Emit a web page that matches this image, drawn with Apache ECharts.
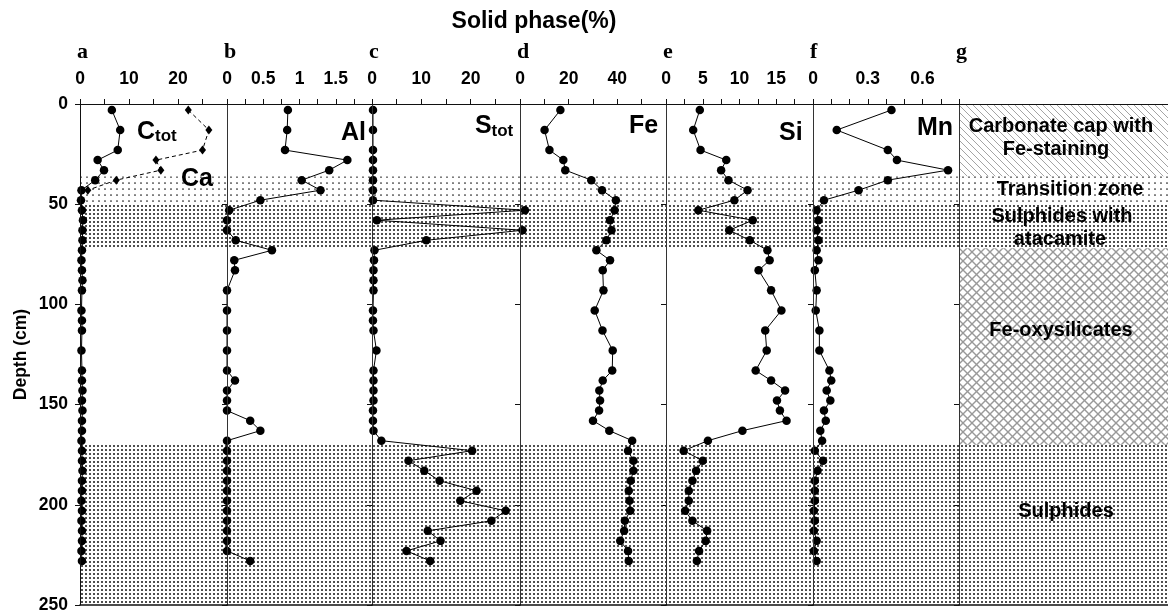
<!DOCTYPE html>
<html>
<head>
<meta charset="utf-8">
<script src="https://cdn.jsdelivr.net/npm/echarts@6/dist/echarts.min.js"></script>
<style>
  html, body { margin: 0; padding: 0; background: #fff; }
  #chart { width: 1168px; height: 615px; }
</style>
</head>
<body>
<div id="chart"></div>
<script>
// ---- Sampling depths (cm) ----
const depthCore = [3, 13, 23, 28, 33, 38, 43, 48, 53, 58, 63, 68, 73, 78, 83, 93, 103, 113, 123,
  133, 138, 143, 148, 153, 158, 163, 168, 173, 178, 183, 188, 193, 198, 203, 208, 213, 218, 223, 228];
const depthFine = [3, 13, 23, 28, 33, 38, 43, 48, 53, 58, 63, 68, 73, 78, 83, 88, 93, 103, 108, 113, 123,
  133, 138, 143, 148, 153, 158, 163, 168, 173, 178, 183, 188, 193, 198, 203, 208, 213, 218, 223, 228];
const depthCa = [3, 13, 23, 28, 33, 38, 43];

// ---- Solid phase contents (%) ----
const ctot = [6.5, 8.2, 7.7, 3.6, 4.9, 3.1, 0.3, 0.2,
  0.4, 0.6, 0.5, 0.5, 0.4, 0.3, 0.4, 0.5, 0.4,
  0.3, 0.4, 0.4, 0.3,
  0.4, 0.4, 0.5, 0.4, 0.5, 0.4, 0.4, 0.3, 0.4, 0.4, 0.5, 0.4, 0.4, 0.3, 0.4, 0.3, 0.4, 0.4, 0.3, 0.4];
const ca = [22.1, 26.3, 25.0, 15.5, 16.5, 7.4, 1.6];
const al = [0.84, 0.83, 0.80, 1.66, 1.41, 1.03, 1.29, 0.46,
  0.03, 0, 0, 0.12, 0.62, 0.10, 0.11,
  0, 0, 0, 0,
  0, 0.11, 0, 0, 0, 0.32, 0.46, 0, 0, 0, 0, 0, 0, 0, 0, 0, 0, 0, 0, 0.32];
const stot = [0.2, 0.2, 0.2, 0.2, 0.2, 0.2, 0.2, 0.2,
  31, 1, 30.5, 11, 0.5, 0.4, 0.3, 0.3, 0.3,
  0.2, 0.2, 0.3, 0.9,
  0.3, 0.3, 0.3, 0.3, 0.2, 0.2, 0.3, 1.9, 20.3, 7.4, 10.6, 13.7, 21.2, 17.9, 27.1, 24.2, 11.3, 13.9, 7.0, 11.8];
const fe = [16.6, 10.1, 12.1, 17.8, 18.6, 29.3, 33.7, 39.4,
  38.9, 37.0, 37.6, 35.5, 31.4, 37.0, 34.0,
  34.3, 30.7, 33.9, 38.1,
  37.9, 34.0, 32.6, 32.9, 32.5, 30.0, 36.7, 46.1, 44.4, 46.6, 46.6, 45.5, 44.7, 45.0, 45.3, 43.1, 42.8, 41.2, 44.4, 44.7];
const si = [4.6, 3.7, 4.7, 8.2, 7.5, 8.5, 11.1, 9.3,
  4.4, 11.8, 8.6, 11.4, 13.8, 14.1, 12.6,
  14.3, 15.7, 13.5, 13.7,
  12.2, 14.3, 16.2, 15.1, 15.5, 16.4, 10.4, 5.7, 2.4, 5.0, 4.1, 3.6, 3.1, 3.1, 2.6, 3.6, 5.6, 5.4, 4.5, 4.2];
const mn = [0.43, 0.13, 0.41, 0.46, 0.74, 0.41, 0.25, 0.06,
  0.02, 0.03, 0.02, 0.03, 0.02, 0.03, 0.01,
  0.02, 0.015, 0.035, 0.035,
  0.09, 0.10, 0.075, 0.095, 0.06, 0.07, 0.04, 0.05, 0.01, 0.055, 0.025, 0.01, 0.01, 0.01, 0.005, 0.01, 0.005, 0.02, 0.005, 0.02];

// ---- Axis tick labels ----
const ticksA = [0, 10, 20];
const ticksB = [0, 0.5, 1, 1.5];
const ticksC = [0, 10, 20];
const ticksD = [0, 20, 40];
const ticksE = [0, 5, 10, 15];
const ticksF = [0, 0.3, 0.6];
const depthTicks = [0, 50, 100, 150, 200, 250];

// ---- Lithological units (depth range in cm) ----
const unitNames = ['Carbonate cap with\nFe-staining', 'Transition zone', 'Sulphides with\natacamite', 'Fe-oxysilicates', 'Sulphides'];
const unitTop = [0, 36, 50, 72, 170];
const unitBottom = [36, 50, 72, 170, 250];
const unitFill = ['hatch', 'sparse', 'dense', 'cross', 'dense'];
const unitInProfiles = [false, true, true, false, true];

// ---- Fill patterns ----
function makeCanvas(w, h, draw) {
  const c = document.createElement('canvas');
  c.width = w; c.height = h;
  draw(c.getContext('2d'), w, h);
  return c;
}
const patterns = {
  sparse: makeCanvas(6, 6, (g) => {
    g.fillStyle = '#1a1a1a';
    g.beginPath(); g.arc(3, 3, 0.85, 0, Math.PI * 2); g.fill();
  }),
  dense: makeCanvas(4, 4, (g) => {
    g.fillStyle = '#151515';
    g.beginPath(); g.arc(2, 2, 1.0, 0, Math.PI * 2); g.fill();
  }),
  hatch: makeCanvas(7, 7, (g, s) => {
    g.strokeStyle = '#a4a4a4'; g.lineWidth = 1;
    for (let k = -1; k <= 1; k++) {
      g.beginPath(); g.moveTo(k * s, 0); g.lineTo(k * s + s, s); g.stroke();
    }
  }),
  cross: makeCanvas(9, 9, (g, s) => {
    g.strokeStyle = '#999'; g.lineWidth = 1.4;
    for (let k = -1; k <= 1; k++) {
      g.beginPath(); g.moveTo(k * s, 0); g.lineTo(k * s + s, s); g.stroke();
      g.beginPath(); g.moveTo(k * s, s); g.lineTo(k * s + s, 0); g.stroke();
    }
  })
};
const fillOf = (name) => ({ image: patterns[name], repeat: 'repeat' });

// ---- Panel layout ----
const FONT = 'Liberation Sans';
const TOP = 104, HEIGHT = 501;
const panels = [
  { letter: 'a', left: 80,  width: 147, max: 30,  step: 5,    ticks: ticksA },
  { letter: 'b', left: 227, width: 145, max: 2,   step: 0.25, ticks: ticksB },
  { letter: 'c', left: 372, width: 148, max: 30,  step: 5,    ticks: ticksC },
  { letter: 'd', left: 520, width: 146, max: 60,  step: 10,   ticks: ticksD },
  { letter: 'e', left: 666, width: 147, max: 20,  step: 2.5,  ticks: ticksE },
  { letter: 'f', left: 813, width: 146, max: 0.8, step: 0.1,  ticks: ticksF },
  { letter: 'g', left: 959, width: 209, max: 1,   step: 1,    ticks: [] }
];

const tickFormatter = (list) => (v) => {
  const hit = list.find((t) => Math.abs(t - v) < 1e-6);
  return hit === undefined ? '' : String(hit);
};

const grids = [], xAxes = [], yAxes = [];
panels.forEach((p, i) => {
  grids.push({ left: p.left, top: TOP, width: p.width, height: HEIGHT, containLabel: false, outerBoundsMode: 'none' });
  xAxes.push({
    type: 'value', gridIndex: i, position: 'top', min: 0, max: p.max, interval: p.step,
    axisLine: { show: true, lineStyle: { color: '#111', width: 1 } },
    axisTick: { show: p.letter !== 'g', inside: false, length: 5, lineStyle: { color: '#111' } },
    axisLabel: {
      show: p.letter !== 'g', formatter: tickFormatter(p.ticks), margin: 16,
      fontSize: 17.5, fontWeight: 'bold', fontFamily: FONT, color: '#000'
    },
    splitLine: { show: false }, z: 10
  });
});
panels.forEach((p, i) => {
  xAxes.push({
    type: 'value', gridIndex: i, position: 'bottom', min: 0, max: 1,
    axisLine: { show: true, lineStyle: { color: '#111', width: 1.5 } },
    axisTick: { show: false }, axisLabel: { show: false }, splitLine: { show: false }, z: 10
  });
  yAxes.push({
    type: 'value', gridIndex: i, position: 'left', inverse: true, min: 0, max: 250, interval: 50,
    axisLine: { show: true, lineStyle: { color: i === 0 ? '#111' : '#333', width: 1 } },
    axisTick: { show: true, inside: false, length: 5, lineStyle: { color: '#111' } },
    axisLabel: {
      show: i === 0, margin: 12, fontSize: 17.5, fontWeight: 'bold', fontFamily: FONT, color: '#000',
      formatter: tickFormatter(depthTicks)
    },
    name: i === 0 ? 'Depth (cm)' : '', nameLocation: 'middle', nameRotate: 90, nameGap: 50,
    nameTextStyle: { fontSize: 17.5, fontWeight: 'bold', fontFamily: FONT, color: '#000' },
    splitLine: { show: false }, z: 10
  });
});

// Shaded depth bands behind each profile, full set in the lithology column
function bands(allUnits) {
  const out = [];
  unitTop.forEach((top, k) => {
    if (!allUnits && !unitInProfiles[k]) return;
    out.push([
      { yAxis: top, itemStyle: { color: fillOf(unitFill[k]), opacity: 1, borderWidth: 0 } },
      { yAxis: unitBottom[k] }
    ]);
  });
  return { silent: true, label: { show: false }, emphasis: { disabled: true }, data: out };
}

const pairs = (xs, ys) => xs.map((v, k) => [v, ys[k]]);

function profile(name, panelIndex, values, depths, extra) {
  return Object.assign({
    name, type: 'line', xAxisIndex: panelIndex, yAxisIndex: panelIndex,
    data: pairs(values, depths), clip: false, z: 5,
    symbol: 'circle', symbolSize: 8.5, showSymbol: true,
    lineStyle: { color: '#000', width: 1 }, itemStyle: { color: '#000' },
    emphasis: { disabled: true }, animation: false
  }, extra || {});
}

const series = [
  profile('Ctot', 0, ctot, depthFine, { markArea: bands(false) }),
  profile('Ca', 0, ca, depthCa, { symbol: 'diamond', symbolSize: [7, 9], lineStyle: { color: '#000', width: 1, type: [4, 3] } }),
  profile('Al', 1, al, depthCore, { markArea: bands(false) }),
  profile('Stot', 2, stot, depthFine, { markArea: bands(false) }),
  profile('Fe', 3, fe, depthCore, { markArea: bands(false) }),
  profile('Si', 4, si, depthCore, { markArea: bands(false) }),
  profile('Mn', 5, mn, depthCore, { markArea: bands(false) }),
  { name: 'units', type: 'line', xAxisIndex: 6, yAxisIndex: 6, data: [], markArea: bands(true), animation: false }
];

// ---- Text annotations ----
const txt = (text, x, y, size, opts) => ({
  type: 'text', x, y, z: 20,
  style: Object.assign({
    text, fontSize: size, fontWeight: 'bold', fontFamily: FONT, fill: '#000',
    align: 'left', verticalAlign: 'middle'
  }, opts || {})
});
const graphics = [
  txt('Solid phase(%)', 534, 22, 23, { align: 'center' }),
  // panel letters
  ...panels.map((p) => txt(p.letter, p.left - 3, 52.5, 22, { fontFamily: 'Liberation Serif' })),
  // element names
  txt('C', 137, 132, 25), txt('tot', 155, 136, 17),
  txt('Ca', 181, 179, 25),
  txt('Al', 341, 133, 25),
  txt('S', 475, 126, 25), txt('tot', 491.5, 131, 17),
  txt('Fe', 629, 126, 25),
  txt('Si', 779, 133, 25),
  txt('Mn', 917, 128, 25),
  // lithology labels
  txt('Carbonate cap with', 1061, 126, 20, { align: 'center' }),
  txt('Fe-staining', 1056, 149, 20, { align: 'center' }),
  txt('Transition zone', 1070, 189, 20, { align: 'center' }),
  txt('Sulphides with', 1062, 216, 20, { align: 'center' }),
  txt('atacamite', 1060, 239, 20, { align: 'center' }),
  txt('Fe-oxysilicates', 1061, 330, 20, { align: 'center' }),
  txt('Sulphides', 1066, 511, 20, { align: 'center' })
];

const chart = echarts.init(document.getElementById('chart'), null, { renderer: 'canvas' });
chart.setOption({
  animation: false,
  backgroundColor: '#fff',
  grid: grids,
  xAxis: xAxes,
  yAxis: yAxes,
  series,
  graphic: graphics
});
</script>
</body>
</html>
